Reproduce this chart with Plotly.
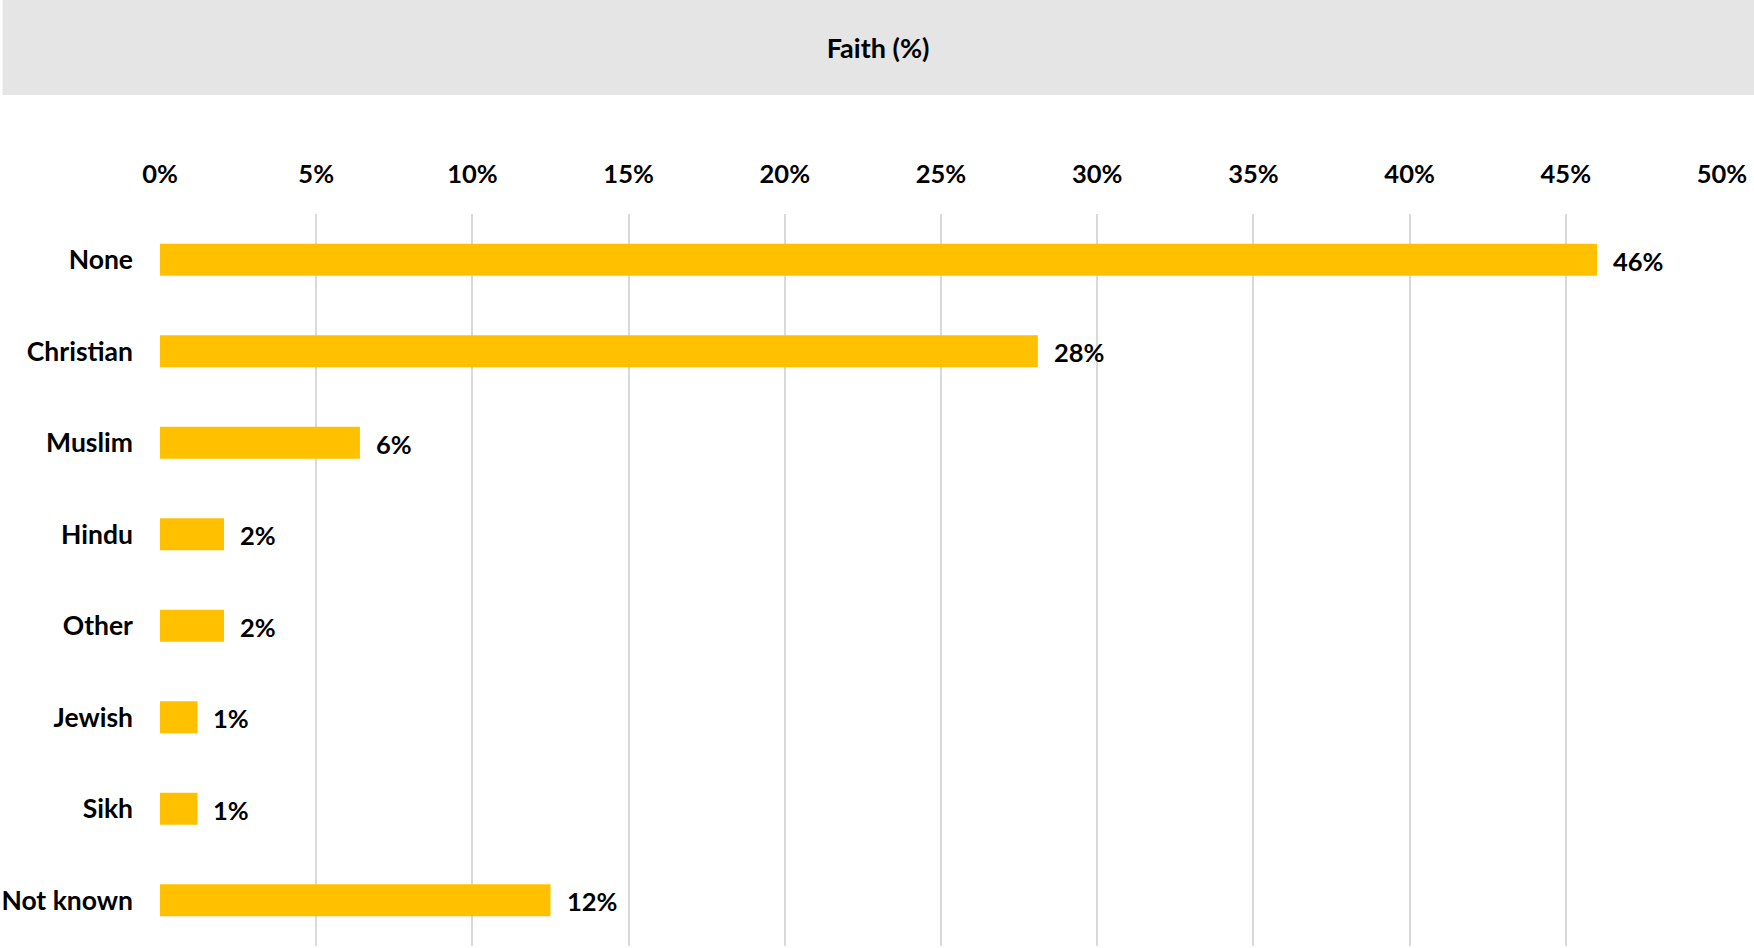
import plotly.graph_objects as go

categories = ["None", "Christian", "Muslim", "Hindu", "Other", "Jewish", "Sikh", "Not known"]
values = [46.0, 28.1, 6.4, 2.05, 2.05, 1.2, 1.2, 12.5]
tick_vals = [0, 5, 10, 15, 20, 25, 30, 35, 40, 45, 50]
tick_text = [f"{v}%" for v in tick_vals]
title_text = "Faith (%)"

FONT = "Lato"
BAR = "#FFC000"

fig = go.Figure()
fig.add_trace(go.Bar(
    x=values, y=categories, orientation="h",
    marker=dict(color=BAR, line=dict(width=0)),
    width=0.35, hoverinfo="skip",
))

for c, v in zip(categories, values):
    fig.add_annotation(
        x=v, y=c, text=f"<b>{v:.0f}%</b>", showarrow=False,
        xanchor="left", yanchor="middle", xshift=14, yshift=-1,
        font=dict(family=FONT, size=25.5, color="#000000"),
    )

# grey title band
fig.add_shape(type="rect", xref="paper", yref="paper",
              x0=-0.1008, x1=1.03, y0=1.1626, y1=1.30,
              fillcolor="#E5E5E5", line=dict(width=0), layer="below")

fig.update_layout(
    width=1754, height=948,
    margin=dict(l=159.5, r=32.3, t=214, b=2, pad=0),
    paper_bgcolor="#FFFFFF", plot_bgcolor="#FFFFFF",
    showlegend=False,
    title=dict(text=f"<b>{title_text}</b>", x=0.5006, xanchor="center",
               y=1 - 49 / 948, yanchor="middle", yref="container",
               font=dict(family=FONT, size=27, color="#000000")),
    xaxis=dict(
        side="top", range=[0, 50], tickvals=tick_vals, ticktext=tick_text,
        showgrid=True, gridcolor="#D9D9D9", gridwidth=2,
        zeroline=False, showline=False, ticks="",
        tickfont=dict(family=FONT, size=25.5, color="#000000", weight="bold"),
        ticklabelstandoff=25, fixedrange=True,
    ),
    yaxis=dict(
        categoryorder="array", categoryarray=categories[::-1],
        autorange=False, range=[-0.5, len(categories) - 0.5],
        showgrid=False, zeroline=False, showline=False, ticks="",
        tickfont=dict(family=FONT, size=26.5, color="#000000", weight="bold"),
        ticklabelstandoff=26, fixedrange=True,
    ),
    bargap=0.65,
)

fig.write_html("out.html")
